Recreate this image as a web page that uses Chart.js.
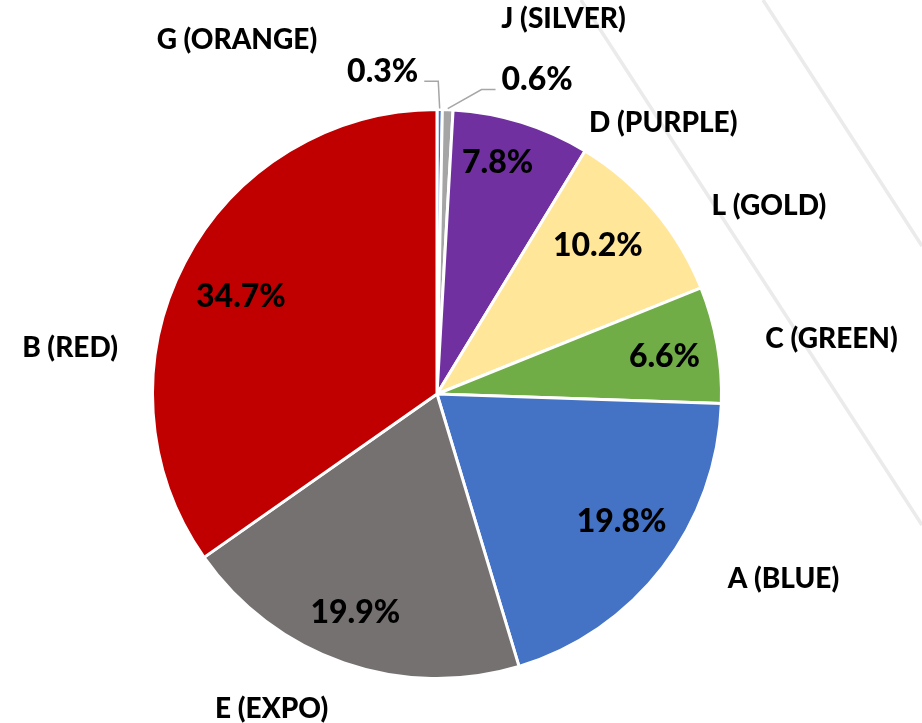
<!DOCTYPE html>
<html>
<head>
<meta charset="utf-8">
<script src="https://cdn.jsdelivr.net/npm/chart.js@4.4.0/dist/chart.umd.min.js"></script>
<style>
  html, body { margin: 0; padding: 0; background: #fff; }
  #wrap { width: 922px; height: 723px; }
</style>
</head>
<body>
<div id="wrap"><canvas id="chartShare"></canvas></div>
<script>
// data (clockwise from 12 o'clock)
const categories = ['G (ORANGE)', 'J (SILVER)', 'D (PURPLE)', 'L (GOLD)', 'C (GREEN)', 'A (BLUE)', 'E (EXPO)', 'B (RED)'];
const shares = [0.3, 0.6, 7.8, 10.2, 6.6, 19.8, 19.9, 34.7];
const sliceColors = ['#4472C4', '#A5A5A5', '#7030A0', '#FFE699', '#70AD47', '#4472C4', '#767171', '#C00000'];

// label placement: [angle shift from slice middle (deg), distance as fraction of radius]
const namePos = [[-30, 1.43], [16.5, 1.39], [22.6, 1.24], [10.8, 1.34], [2.1, 1.40], [-9.5, 1.38], [8.6, 1.25], [-20.3, 1.30]];
const valuePos = [[-10.1, 1.15], [15.5, 1.16], [-2.6, 0.84], [-2.5, 0.77], [0.8, 0.81], [-2.8, 0.79], [1.4, 0.82], [-1.0, 0.77]];

const FONT = 'Lato, "Open Sans", sans-serif';

// faint diagonal strokes in the background
const backdrop = {
  id: 'backdrop',
  beforeDraw(chart) {
    const ctx = chart.ctx;
    ctx.save();
    ctx.strokeStyle = '#EBEBEB';
    ctx.lineWidth = 3.5;
    ctx.beginPath();
    ctx.moveTo(581, 0); ctx.lineTo(922, 525);
    ctx.moveTo(763, 0); ctx.lineTo(922, 246);
    ctx.stroke();
    ctx.restore();
  }
};

const pieLabels = {
  id: 'pieLabels',
  afterDatasetsDraw(chart) {
    const ctx = chart.ctx;
    const meta = chart.getDatasetMeta(0);
    ctx.save();
    ctx.textAlign = 'center';
    ctx.textBaseline = 'middle';
    ctx.fillStyle = '#000';
    meta.data.forEach((arc, i) => {
      const p = arc.getProps(['x', 'y', 'startAngle', 'endAngle', 'outerRadius'], true);
      const mid = (p.startAngle + p.endAngle) / 2;
      const r = p.outerRadius;

      // category name
      let a = mid + namePos[i][0] * Math.PI / 180;
      let nx = p.x + Math.cos(a) * r * namePos[i][1];
      let ny = p.y + Math.sin(a) * r * namePos[i][1];
      ctx.font = '900 28px ' + FONT;
      ctx.fillText(categories[i], nx, ny);

      // percentage
      a = mid + valuePos[i][0] * Math.PI / 180;
      const vx = p.x + Math.cos(a) * r * valuePos[i][1];
      const vy = p.y + Math.sin(a) * r * valuePos[i][1];
      const txt = shares[i].toFixed(1) + '%';
      ctx.font = '900 32px ' + FONT;
      ctx.fillText(txt, vx, vy);

      // leader line for labels outside the pie
      if (valuePos[i][1] > 1) {
        const w = ctx.measureText(txt).width;
        const side = vx < p.x ? 1 : -1;
        const sx = vx + side * (w / 2 + 6);
        const sy = vy + 10;
        const kx = sx + side * 14;
        const ex = p.x + Math.cos(mid) * r;
        const ey = p.y + Math.sin(mid) * r - 1;
        ctx.strokeStyle = '#A6A6A6';
        ctx.lineWidth = 1.5;
        ctx.beginPath();
        ctx.moveTo(sx, sy);
        ctx.lineTo(kx, sy);
        ctx.lineTo(ex, ey);
        ctx.stroke();
      }
    });
    ctx.restore();
  }
};

const chartShare = new Chart(document.getElementById('chartShare'), {
  type: 'pie',
  data: {
    labels: categories,
    datasets: [{
      data: shares,
      backgroundColor: sliceColors,
      borderColor: '#FFFFFF',
      borderWidth: 3,
      hoverOffset: 0,
      offset: 0
    }]
  },
  options: {
    responsive: true,
    maintainAspectRatio: false,
    animation: false,
    layout: {
      padding: { top: 108, bottom: 43, left: 151, right: 199 }
    },
    plugins: {
      legend: { display: false },
      tooltip: { enabled: false }
    }
  },
  plugins: [backdrop, pieLabels]
});
</script>
</body>
</html>
